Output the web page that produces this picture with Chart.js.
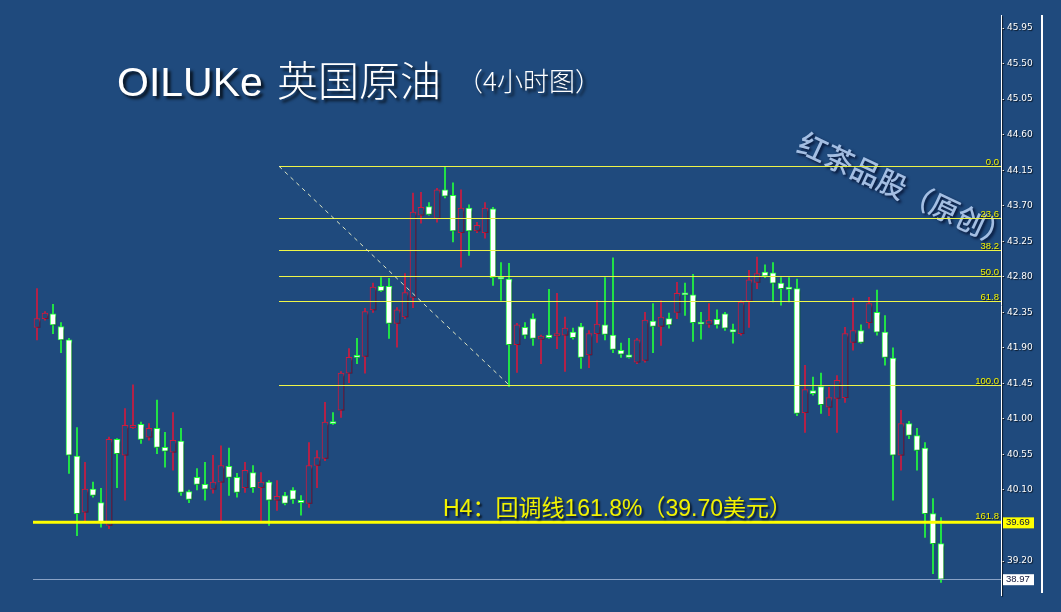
<!DOCTYPE html>
<html lang="zh-CN">
<head>
<meta charset="UTF-8">
<title>OILUKe 英国原油（4小时图）</title>
<script src="https://cdn.jsdelivr.net/npm/chart.js"></script>
<style>
    html, body { margin: 0; padding: 0; background: #1f4a7d; }
    #wrap { position: relative; width: 1061px; height: 612px; }
</style>
</head>
<body>
<div id="wrap"><canvas id="oilChart"></canvas></div>
<script>
// 4h candles
const opens  = [42.16,42.27,42.33,42.17,42.00,40.53,39.82,40.11,39.94,39.65,40.74,40.54,40.89,40.93,40.77,40.88,40.64,40.58,40.72,40.08,
                40.26,40.17,40.11,40.20,40.40,40.26,40.13,40.32,40.13,40.20,39.97,40.03,40.10,39.97,39.93,40.41,40.50,40.96,41.11,41.58,
                41.79,41.79,42.38,42.68,42.68,42.21,42.29,42.54,43.58,43.69,43.54,43.90,43.83,43.36,43.67,43.38,43.36,43.66,42.79,42.77,
                41.94,42.16,42.27,42.01,42.06,42.05,42.06,42.10,42.17,41.81,42.08,42.19,42.06,41.87,41.81,41.72,41.74,42.24,42.17,42.27,
                42.35,42.59,42.57,42.22,42.20,42.26,42.33,42.13,42.08,42.49,42.73,42.86,42.85,42.72,42.67,42.65,41.08,41.36,41.41,41.15,
                41.26,41.27,41.97,42.12,42.22,42.35,42.10,41.77,40.54,40.94,40.79,40.63,39.80,39.42];
const highs  = [42.65,42.36,42.45,42.22,42.02,40.89,40.45,40.20,40.12,40.77,40.75,41.13,41.43,40.96,40.94,41.24,40.83,41.08,40.88,40.10,
                40.37,40.45,40.54,40.66,40.63,40.31,40.45,40.41,40.32,40.22,40.22,40.07,40.13,40.03,40.70,40.60,41.21,41.08,41.60,41.89,
                42.02,42.40,42.72,42.79,42.78,42.41,42.84,43.86,43.87,43.74,43.92,44.19,43.99,43.90,43.71,43.49,43.74,43.68,42.98,42.97,
                42.21,42.22,42.33,42.06,42.64,42.59,42.29,42.15,42.21,42.12,42.50,42.79,43.04,41.96,42.02,42.02,42.35,42.46,42.50,42.34,
                42.73,42.72,42.83,42.35,42.46,42.38,42.35,42.20,42.50,42.88,43.05,42.95,42.98,42.79,42.79,42.77,41.68,41.53,41.58,41.40,
                41.55,42.16,42.53,42.19,42.54,42.63,42.31,41.90,41.11,40.97,40.88,40.70,39.99,39.75];
const lows   = [42.00,42.25,42.08,41.84,40.31,39.52,39.71,40.01,39.63,39.61,40.13,39.97,40.88,40.69,40.73,40.56,40.39,40.35,40.03,39.94,
                40.10,39.97,40.06,39.69,40.03,40.01,40.07,40.07,39.71,39.65,39.84,39.91,39.93,39.78,39.88,40.13,40.47,40.93,41.02,41.46,
                41.70,41.58,42.35,42.61,42.02,41.91,42.27,42.41,43.48,43.58,43.49,43.80,43.24,42.92,43.07,43.36,43.29,42.69,42.50,41.41,
                41.59,42.02,41.93,41.70,42.02,41.89,41.60,42.01,41.64,41.65,41.97,42.00,41.84,41.78,41.77,41.70,41.72,41.84,41.93,42.15,
                42.27,42.31,41.98,42.01,42.16,42.15,42.12,41.96,42.06,42.16,42.65,42.79,42.48,42.44,42.48,41.04,40.83,41.30,41.07,41.04,
                40.83,41.21,41.87,41.96,42.15,42.06,41.68,39.97,40.35,40.75,40.35,39.50,39.04,38.93];
const closes = [42.27,42.34,42.19,42.00,40.54,39.80,40.11,40.03,39.69,40.74,40.56,40.92,40.92,40.74,40.88,40.64,40.59,40.73,40.07,39.98,
                40.17,40.11,40.20,40.41,40.26,40.07,40.35,40.13,40.20,39.97,40.02,39.93,39.98,39.94,40.41,40.51,40.96,40.94,41.58,41.78,
                41.78,42.36,42.67,42.62,42.21,42.38,42.60,43.62,43.68,43.59,43.90,43.82,43.38,43.67,43.38,43.45,43.67,42.79,42.77,41.94,
                42.19,42.06,42.02,42.05,42.03,42.08,42.15,42.03,41.78,42.08,42.20,42.07,41.88,41.82,41.78,42.00,42.25,42.17,42.29,42.19,
                42.59,42.57,42.22,42.20,42.25,42.19,42.15,42.10,42.48,42.76,42.84,42.81,42.72,42.65,42.64,41.07,41.37,41.32,41.18,41.27,
                41.49,42.08,42.12,41.97,42.46,42.10,41.78,40.54,40.94,40.79,40.60,39.80,39.42,38.97];
const blankBars = 7; // empty space right of the last candle

const yTicks = [45.95,45.50,45.05,44.60,44.15,43.70,43.25,42.80,42.35,41.90,41.45,41.00,40.55,40.10,39.20];
const fibNames  = ['0.0','23.6','38.2','50.0','61.8','100.0'];
const fibPrices = [44.20,43.55,43.14,42.81,42.49,41.43];
const fibFrom = 30.25, fibTo = 59;   // bar indexes of the fib anchors
const targetName = '161.8', targetPrice = 39.69;
const lastPrice = 38.97;

const BG = '#1f4a7d';
const UP = '#d21a3e';
const DOWN = '#22ff3c';

const categories = opens.concat(new Array(blankBars).fill(null)).map((_, i) => String(i + 1));
const isUp = i => closes[i] >= opens[i];

const wicks = categories.map((_, i) => i < opens.length ? [lows[i], highs[i]] : null);
const bodies = categories.map((_, i) => i < opens.length ? [opens[i], closes[i]] : null);

const overlay = {
    id: 'overlay',
    beforeDraw(chart) {
        const c = chart.ctx;
        c.save();
        c.shadowColor = 'rgba(0,0,0,0.75)';
        c.shadowOffsetX = 3; c.shadowOffsetY = 3; c.shadowBlur = 3;
        c.fillStyle = '#ffffff';
        c.textBaseline = 'alphabetic';
        c.font = '41px "Liberation Sans", Arial, sans-serif';
        c.fillText('OILUKe', 117, 96);
        c.font = '300 41px "Noto Sans CJK SC", sans-serif';
        c.fillText('英国原油', 277, 96);
        c.font = '300 26px "Noto Sans CJK SC", sans-serif';
        c.fillText('（4小时图）', 457, 91);

        // watermark
        c.translate(800, 141);
        c.rotate(25 * Math.PI / 180);
        c.font = '500 29px "Noto Sans CJK SC", sans-serif';
        c.textBaseline = 'middle';
        c.shadowColor = 'rgba(0,10,40,0.9)';
        c.shadowOffsetX = 2; c.shadowOffsetY = 2; c.shadowBlur = 3;
        c.fillStyle = 'rgba(176,202,238,0.92)';
        c.fillText('红茶品股（原创）', 0, 0);
        c.restore();

        // axis labels get a soft shadow too
        c.save();
        c.shadowColor = 'rgba(0,0,0,0.7)';
        c.shadowOffsetX = 1; c.shadowOffsetY = 1; c.shadowBlur = 1;
    },
    beforeDatasetsDraw(chart) {
        chart.ctx.restore();
    },
    beforeDatasetDraw(chart, args) {
        if (args.index !== 1) return;
        const c = chart.ctx;
        c.save();
        c.shadowColor = 'rgba(0,0,20,0.45)';
        c.shadowOffsetX = 2; c.shadowOffsetY = 2; c.shadowBlur = 2;
    },
    afterDatasetDraw(chart, args) {
        if (args.index === 1) chart.ctx.restore();
    },
    afterDatasetsDraw(chart) {
        const c = chart.ctx, x = chart.scales.x, y = chart.scales.y, area = chart.chartArea;
        c.save();
        const x0 = x.getPixelForValue(fibFrom);

        // fibonacci levels
        c.lineWidth = 1;
        c.font = '9.5px "Liberation Sans", sans-serif';
        c.textAlign = 'right';
        c.textBaseline = 'alphabetic';
        fibPrices.forEach((p, i) => {
            const py = Math.round(y.getPixelForValue(p)) + 0.5;
            c.strokeStyle = '#eef548';
            c.beginPath(); c.moveTo(x0, py); c.lineTo(area.right, py); c.stroke();
            c.save();
            c.shadowColor = 'rgba(0,0,0,0.7)'; c.shadowOffsetX = 1; c.shadowOffsetY = 1;
            c.fillStyle = '#f4f400';
            c.fillText(fibNames[i], area.right - 2, py - 2);
            c.restore();
        });

        // trend line between the anchors
        c.setLineDash([4, 4]);
        c.strokeStyle = 'rgba(235,240,200,0.95)';
        c.beginPath();
        c.moveTo(x0, y.getPixelForValue(fibPrices[0]));
        c.lineTo(x.getPixelForValue(fibTo), y.getPixelForValue(fibPrices[fibPrices.length - 1]));
        c.stroke();
        c.setLineDash([]);

        // last price line
        const ly = Math.round(y.getPixelForValue(lastPrice)) + 0.5;
        c.strokeStyle = '#8aa3c6';
        c.beginPath(); c.moveTo(area.left, ly); c.lineTo(area.right, ly); c.stroke();

        // 161.8 target line
        const ty = y.getPixelForValue(targetPrice);
        c.strokeStyle = '#ffff00';
        c.lineWidth = 3;
        c.beginPath(); c.moveTo(area.left, ty); c.lineTo(area.right, ty); c.stroke();
        c.shadowColor = 'rgba(0,0,0,0.7)'; c.shadowOffsetX = 1; c.shadowOffsetY = 1;
        c.fillStyle = '#f4f400';
        c.fillText(targetName, area.right - 2, ty - 3);

        c.textAlign = 'left';
        c.shadowOffsetX = 2; c.shadowOffsetY = 2; c.shadowBlur = 2;
        c.font = '23px "Liberation Sans", "Noto Sans CJK SC", sans-serif';
        c.fillStyle = '#f2f200';
        c.fillText('H4：回调线161.8%（39.70美元）', 443, 516);
        c.restore();
    },
    afterDraw(chart) {
        const c = chart.ctx, y = chart.scales.y, area = chart.chartArea;
        c.save();
        // outer frame line right of the price scale
        c.strokeStyle = '#ffffff';
        c.lineWidth = 2;
        c.beginPath(); c.moveTo(area.right + 41, area.top); c.lineTo(area.right + 41, area.bottom - 2); c.stroke();

        c.font = '9.5px "Liberation Sans", sans-serif';
        c.textBaseline = 'middle';
        const box = (price, fill) => {
            const py = y.getPixelForValue(price);
            c.fillStyle = fill;
            c.fillRect(area.right + 2, py - 5, 31, 11);
            c.fillStyle = '#10163a';
            c.fillText(price.toFixed(2), area.right + 5, py + 0.5);
        };
        box(targetPrice, '#ffff00');
        box(lastPrice, '#ffffff');
        c.restore();
    }
};

new Chart(document.getElementById('oilChart'), {
    type: 'bar',
    data: {
        labels: categories,
        datasets: [{
            label: 'wick',
            data: wicks,
            order: 2,
            grouped: false,
            barThickness: 1,
            borderWidth: 0,
            backgroundColor: categories.map((_, i) => isUp(i) ? UP : DOWN)
        }, {
            label: 'body',
            data: bodies,
            order: 1,
            grouped: false,
            barThickness: 6,
            minBarLength: 2,
            borderWidth: 1,
            borderSkipped: false,
            backgroundColor: categories.map((_, i) => isUp(i) ? BG : '#ffffff'),
            borderColor: categories.map((_, i) => isUp(i) ? UP : DOWN)
        }]
    },
    options: {
        responsive: true,
        maintainAspectRatio: false,
        animation: false,
        devicePixelRatio: 1,
        layout: { padding: { left: 33, top: 15, right: 0, bottom: 17 } },
        scales: {
            x: { display: false, offset: true, grid: { display: false } },
            y: {
                position: 'right',
                min: 38.77,
                max: 46.115,
                afterBuildTicks: s => { s.ticks = yTicks.map(v => ({ value: v })); },
                afterFit: s => { s.width = 60; },
                grid: { drawOnChartArea: false, color: '#ffffff', tickLength: 3 },
                border: { color: '#ffffff', width: 1 },
                ticks: {
                    color: '#ffffff',
                    padding: 3,
                    autoSkip: false,
                    font: { family: 'DejaVu Sans', size: 9 },
                    callback: v => v.toFixed(2)
                }
            }
        },
        plugins: {
            legend: { display: false },
            tooltip: { enabled: false }
        }
    },
    plugins: [overlay]
});
</script>
</body>
</html>
